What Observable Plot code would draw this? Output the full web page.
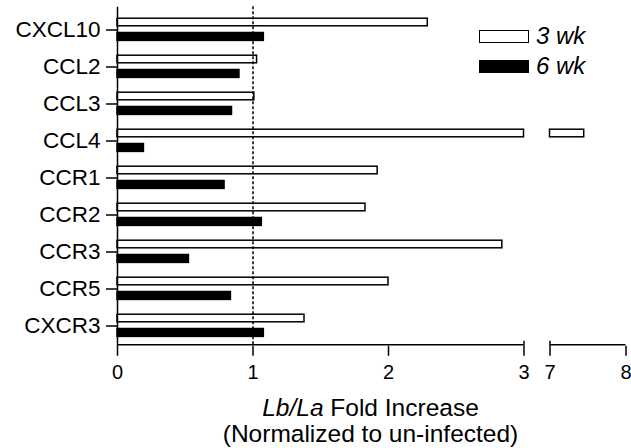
<!DOCTYPE html>
<html><head><meta charset="utf-8">
<script src="https://cdn.jsdelivr.net/npm/d3@7"></script>
<script src="https://cdn.jsdelivr.net/npm/@observablehq/plot@0.6"></script>
<style>
body{margin:0;background:#fff;font-family:"Liberation Sans",Arial,sans-serif;}
#wrap{position:relative;width:631px;height:448px;}
#legend{position:absolute;left:479px;top:21px;font-size:24px;font-style:italic;}
#legend .row{display:flex;align-items:center;height:30px;}
#legend .sw{display:inline-block;width:48px;height:11px;border:1.5px solid #000;margin-right:7px;}
#title{position:absolute;left:117px;width:507px;top:395px;text-align:center;font-size:24.5px;line-height:26px;}
</style></head><body>
<div id="wrap"></div>
<script>
const categories = ["CXCL10","CCL2","CCL3","CCL4","CCR1","CCR2","CCR3","CCR5","CXCR3"];
const series = ["3 wk","6 wk"];
const wk3 = [2.29,1.03,1.01,7.45,1.92,1.83,2.84,2.00,1.38];
const wk6 = [1.08,0.90,0.845,0.195,0.79,1.065,0.527,0.837,1.08];
const xTicks = [0,1,2,3,7,8];
const breakLow = 3, breakHigh = 7, xMax = 8;
const refLine = 1;

const rows = [];
categories.forEach((c,i)=>{
  rows.push({category:c, series:series[0], value:wk3[i]});
  rows.push({category:c, series:series[1], value:wk6[i]});
});
const low = rows.map(d=>({...d, x1:0, x2:Math.min(d.value, breakLow)}));
const high = rows.filter(d=>d.value>breakHigh).map(d=>({...d, x1:breakHigh, x2:d.value}));
const broken = rows.filter(d=>d.value>breakHigh);
const segments = [{from:0,to:breakLow},{from:breakHigh,to:xMax}];
const fills = {"3 wk":"white","6 wk":"black"};
const insets = {"3 wk":[7.2,22.2],"6 wk":[21.5,7.6]};

const H = 448, yTop = 8.25, yBottom = 345.75;
const marks = [];
for (const s of series) {
  const [it, ib] = insets[s];
  for (const part of [low, high]) {
    marks.push(Plot.barX(part.filter(d=>d.series===s), {x1:"x1", x2:"x2", y:"category", fill:fills[s], stroke:"black", strokeWidth:1.5, insetTop:it, insetBottom:ib}));
  }
  const br = broken.filter(d=>d.series===s);
  marks.push(Plot.ruleX(br, {x: ()=>breakLow, y:"category", stroke:"white", strokeWidth:2.5, insetTop:it+0.9, insetBottom:ib+0.9}));
  marks.push(Plot.ruleX(br, {x: ()=>breakHigh, y:"category", stroke:"white", strokeWidth:2.5, insetTop:it+0.9, insetBottom:ib+0.9}));
}
marks.push(Plot.ruleX([refLine], {stroke:"black", strokeWidth:1.5, strokeDasharray:"3,2", insetTop:-2}));
marks.push(Plot.ruleX([0], {stroke:"black", strokeWidth:1.5, insetTop:-1.5}));
marks.push(Plot.ruleY(segments, {x1:"from", x2:"to", y:()=>categories[categories.length-1], dy:18.75, stroke:"black", strokeWidth:1.5}));
marks.push(Plot.ruleX([breakLow, breakHigh], {stroke:"black", strokeWidth:1.5, insetTop:(yBottom-yTop)-5, insetBottom:0}));
marks.push(Plot.axisX({ticks:xTicks, tickSize:10, tickPadding:9, strokeWidth:1.5, label:null, fontSize:20, tickFormat:d=>String(d)}));
marks.push(Plot.axisY({tickSize:11, tickPadding:6, strokeWidth:1.5, label:null, fontSize:22.5}));

const chart = Plot.plot({
  width:631, height:H,
  marginLeft:117, marginRight:5.5, marginTop:yTop, marginBottom:H-yBottom,
  style:{fontSize:"20px", fontFamily:"Liberation Sans, Arial, sans-serif", color:"black", background:"white"},
  x:{type:"linear", domain:[0,breakLow,breakHigh,xMax], range:[117,523.5,549.5,625.5]},
  y:{domain:categories, range:[yTop,yBottom], padding:0},
  marks
});
const wrap = document.getElementById("wrap");
wrap.appendChild(chart);

const legend = document.createElement("div");
legend.id = "legend";
series.forEach(s=>{
  const r = document.createElement("div"); r.className="row";
  const sw = document.createElement("span"); sw.className="sw"; sw.style.background = fills[s];
  const t = document.createElement("span"); t.textContent = s;
  r.appendChild(sw); r.appendChild(t); legend.appendChild(r);
});
wrap.appendChild(legend);

const title = document.createElement("div");
title.id = "title";
title.innerHTML = "<i>Lb/La</i> Fold Increase<br>(Normalized to un-infected)";
wrap.appendChild(title);
</script>
</body></html>
